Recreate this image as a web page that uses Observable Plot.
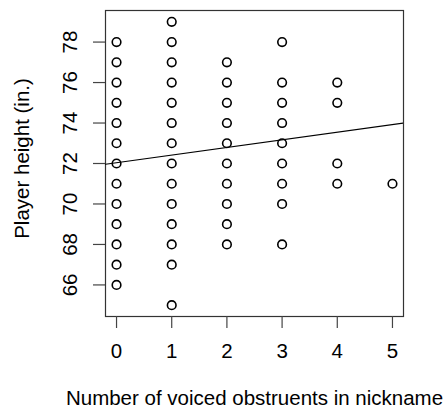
<!DOCTYPE html>
<html>
<head>
<meta charset="utf-8">
<script src="https://cdn.jsdelivr.net/npm/d3@7"></script>
<script src="https://cdn.jsdelivr.net/npm/@observablehq/plot@0.6"></script>
<style>
  html, body { margin: 0; padding: 0; background: #fff; }
  svg { display: block; }
</style>
</head>
<body>
<div id="chart"></div>
<script>
// Points: number of voiced obstruents (x) and player height in inches (y)
const obstruents0 = [66, 67, 68, 69, 70, 71, 72, 73, 74, 75, 76, 77, 78];
const obstruents1 = [65, 67, 68, 69, 70, 71, 72, 73, 74, 75, 76, 77, 78, 79];
const obstruents2 = [68, 69, 70, 71, 72, 73, 74, 75, 76, 77];
const obstruents3 = [68, 70, 71, 72, 73, 74, 75, 76, 78];
const obstruents4 = [71, 72, 75, 76];
const obstruents5 = [71];
const groups = [obstruents0, obstruents1, obstruents2, obstruents3, obstruents4, obstruents5];

// Fitted regression line
const intercept = 72.04;
const slope = 0.377;

const xTicks = [0, 1, 2, 3, 4, 5];
const yTicks = [66, 68, 70, 72, 74, 76, 78];
const xLabel = "Number of voiced obstruents in nickname";
const yLabel = "Player height (in.)";

const points = groups.flatMap((hs, i) => hs.map(h => ({voiced: i, height: h})));
const xDomain = [-0.2, 5.2];
const yDomain = [64.44, 79.56];
const fitLine = xDomain.map(v => ({voiced: v, height: intercept + slope * v}));

const font = "'Liberation Sans', Arial, Helvetica, sans-serif";
const fs = 20.5;

const chart = Plot.plot({
  width: 443,
  height: 411,
  marginLeft: 105,
  marginRight: 40,
  marginTop: 10,
  marginBottom: 95,
  style: {fontFamily: font, fontSize: fs + "px", color: "#000", background: "#fff"},
  x: {domain: xDomain, axis: null},
  y: {domain: yDomain, axis: null},
  marks: [
    Plot.frame({stroke: "#333", strokeWidth: 1.2}),
    Plot.axisX(xTicks, {anchor: "bottom", tickSize: 12, tickPadding: 15, fontSize: fs, stroke: "#444", strokeWidth: 1.2, label: null}),
    Plot.axisY(yTicks, {anchor: "left", tickSize: 12, tickPadding: 17, tickRotate: -90, fontSize: fs, stroke: "#444", strokeWidth: 1.2, label: null}),
    Plot.dot(points, {x: "voiced", y: "height", r: 4.3, stroke: "#000", strokeWidth: 1.6, fill: "none"}),
    Plot.line(fitLine, {x: "voiced", y: "height", stroke: "#000", strokeWidth: 1.1, clip: true}),
    Plot.text([xLabel], {frameAnchor: "bottom", dy: 88, fontSize: fs, fill: "#000"}),
    Plot.text([yLabel], {frameAnchor: "left", textAnchor: "middle", rotate: -90, dx: -83, dy: -5, fontSize: fs, fill: "#000"})
  ]
});
document.getElementById("chart").appendChild(chart);
</script>
</body>
</html>
